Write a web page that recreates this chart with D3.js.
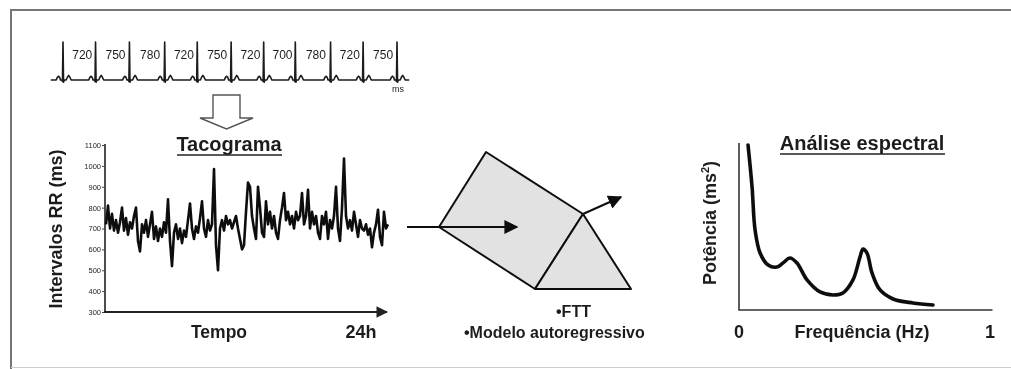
<!DOCTYPE html>
<html>
<head>
<meta charset="utf-8">
<script src="https://cdn.jsdelivr.net/npm/d3@7"></script>
<style>
  html, body { margin: 0; padding: 0; background: #fff; }
  svg { display: block; }
  text { font-family: "Liberation Sans", Arial, sans-serif; fill: #1e1e1e; }
</style>
</head>
<body>
<svg id="fig" width="1011" height="369"></svg>
<script>
// ---- ECG strip: RR intervals between successive R peaks (ms)
const ecgIntervals = [720, 750, 780, 720, 750, 720, 700, 780, 720, 750];
// one beat, as (ms offset from the R peak, relative amplitude)
const beatTemplate = [
  [-150, 0], [-125, 0.07], [-100, 0.1], [-75, 0.07], [-55, 0], [-25, 0],
  [-12, -0.04], [0, 1], [12, -0.06], [28, 0], [70, 0], [100, 0.08],
  [125, 0.12], [150, 0.08], [180, 0]
];

// ---- Tachogram: RR interval series over 24 h (ms)
const rrValues = [
  720, 810, 700, 770, 690, 740, 680, 730, 800, 690, 750, 670, 730, 700, 760, 800,
  640, 590, 720, 680, 740, 660, 720, 780, 650, 710, 640, 700, 660, 730, 680, 840,
  640, 520, 680, 720, 650, 700, 630, 690, 660, 740, 820, 700, 650, 710, 680, 750,
  830, 700, 660, 740, 690, 720, 985, 620, 500, 700, 740, 690, 760, 720, 740, 700,
  730, 760, 700, 650, 600, 620, 780, 920, 900, 760, 700, 650, 900, 800, 680, 660,
  830, 720, 780, 700, 760, 680, 650, 740, 800, 870, 740, 780, 720, 760, 700, 780,
  740, 760, 870, 720, 760, 885, 700, 780, 720, 760, 680, 650, 760, 720, 780, 650,
  740, 700, 760, 900, 700, 640, 800, 1035, 760, 700, 740, 690, 780, 720, 660, 740,
  700, 690, 720, 670, 700, 610, 680, 720, 790, 660, 620, 780, 700, 720
];
const rrTicks = [300, 400, 500, 600, 700, 800, 900, 1000, 1100];

// ---- Power spectrum: frequency (Hz) and power (arbitrary units)
const specFreq  = [0.036, 0.052, 0.064, 0.084, 0.116, 0.151, 0.175, 0.203, 0.231, 0.271, 0.323,
                   0.375, 0.414, 0.454, 0.482, 0.494, 0.510, 0.530, 0.562, 0.614, 0.693, 0.773];
const specPower = [98.8, 73.7, 47.9, 34.1, 26.9, 25.7, 28.1, 31.1, 28.1, 18.0, 10.8,
                   9.0, 10.2, 18.0, 31.7, 36.5, 34.1, 22.2, 12.0, 6.6, 4.2, 3.0];
const specTicks = [0, 1];

const svg = d3.select("#fig");

// light softening of all strokes and type
const defs = svg.append("defs");
defs.append("filter").attr("id", "soft")
  .append("feGaussianBlur").attr("stdDeviation", 0.4);

// arrowhead markers
function addHead(id, size, color) {
  defs.append("marker")
    .attr("id", id)
    .attr("viewBox", "0 0 10 10")
    .attr("refX", 9).attr("refY", 5)
    .attr("markerWidth", size).attr("markerHeight", size)
    .attr("markerUnits", "strokeWidth")
    .attr("orient", "auto")
    .append("path").attr("d", "M0,0 L10,5 L0,10 Z").attr("fill", color);
}
addHead("head", 7, "#111");
addHead("headAxis", 6.5, "#222");

const g = svg.append("g").attr("filter", "url(#soft)");

// ---- frame
g.append("path")
  .attr("d", "M1011,10 L11,10 L11,369")
  .attr("fill", "none").attr("stroke", "#777").attr("stroke-width", 2);
g.append("line")
  .attr("x1", 11).attr("x2", 1011).attr("y1", 367.5).attr("y2", 367.5)
  .attr("stroke", "#ccc").attr("stroke-width", 1);

// ---- ECG strip
const beatTimes = [0];
ecgIntervals.forEach(v => beatTimes.push(beatTimes[beatTimes.length - 1] + v));
const ecgX = d3.scaleLinear().domain([0, d3.sum(ecgIntervals)]).range([63, 397]);
const ecgY = d3.scaleLinear().domain([0, 1]).range([80, 42]);
const ecgPts = [];
beatTimes.forEach(t => beatTemplate.forEach(([dt, a]) => ecgPts.push([t + dt, a])));
ecgPts.unshift([-270, 0]);
ecgPts.push([beatTimes[beatTimes.length - 1] + 270, 0]);
g.append("path")
  .datum(ecgPts)
  .attr("d", d3.line().x(d => ecgX(d[0])).y(d => ecgY(d[1])))
  .attr("fill", "none").attr("stroke", "#1a1a1a").attr("stroke-width", 1.6)
  .attr("stroke-linejoin", "round");
g.selectAll("text.rr")
  .data(ecgIntervals)
  .join("text")
  .attr("class", "rr")
  .attr("x", (d, i) => (ecgX(beatTimes[i]) + ecgX(beatTimes[i + 1])) / 2 + 3)
  .attr("y", 59)
  .attr("text-anchor", "middle")
  .attr("font-size", 12)
  .attr("fill", "#222")
  .text(d => d);
g.append("text").attr("x", 398).attr("y", 92).attr("text-anchor", "middle")
  .attr("font-size", 9).attr("fill", "#444").text("ms");

// ---- hollow down arrow
g.append("path")
  .attr("d", "M213,95 L240,95 L240,118 L253,118 L226.5,129 L200,118 L213,118 Z")
  .attr("fill", "#fff").attr("stroke", "#555").attr("stroke-width", 1.4);

// ---- Tachogram
const tx = d3.scaleLinear().domain([0, rrValues.length - 1]).range([106, 388]);
const ty = d3.scaleLinear().domain([300, 1100]).range([312, 145]);

g.append("text").attr("x", 229).attr("y", 151).attr("text-anchor", "middle")
  .attr("font-size", 20).attr("font-weight", "bold").text("Tacograma");
g.append("line").attr("x1", 177).attr("x2", 282).attr("y1", 155).attr("y2", 155)
  .attr("stroke", "#222").attr("stroke-width", 1.5);

const yAxis = g.append("g").attr("transform", "translate(105,0)")
  .call(d3.axisLeft(ty).tickValues(rrTicks).tickFormat(d3.format("d")).tickSize(3).tickPadding(1));
yAxis.select(".domain").attr("stroke", "#222").attr("stroke-width", 1.6)
  .attr("d", `M0,${ty(300)}V${ty(1100) - 1}`);
yAxis.selectAll(".tick line").attr("stroke", "#444");
yAxis.selectAll(".tick text").attr("font-size", 7.5).attr("fill", "#444")
  .attr("font-family", "Liberation Sans, Arial, sans-serif");

g.append("line")
  .attr("x1", 104).attr("x2", 387).attr("y1", ty(300)).attr("y2", ty(300))
  .attr("stroke", "#222").attr("stroke-width", 1.8).attr("marker-end", "url(#headAxis)");

g.append("path")
  .datum(rrValues)
  .attr("d", d3.line().x((d, i) => tx(i)).y(d => ty(d)))
  .attr("fill", "none").attr("stroke", "#111").attr("stroke-width", 2.6)
  .attr("stroke-linejoin", "round");

g.append("text").attr("transform", "translate(62,229) rotate(-90)")
  .attr("text-anchor", "middle").attr("font-size", 18).attr("font-weight", "bold")
  .text("Intervalos RR (ms)");
g.append("text").attr("x", 219).attr("y", 338).attr("text-anchor", "middle")
  .attr("font-size", 17.5).attr("font-weight", "bold").text("Tempo");
g.append("text").attr("x", 361).attr("y", 338).attr("text-anchor", "middle")
  .attr("font-size", 18).attr("font-weight", "bold").text("24h");

// ---- Prism (spectral decomposition)
const prismBody = [[439, 227], [486, 152], [583, 214], [535, 289]];
const prismTip = [[535, 289], [583, 214], [631, 289]];
[prismBody, prismTip].forEach(p => {
  g.append("path")
    .attr("d", d3.line()(p) + "Z")
    .attr("fill", "#e2e2e2").attr("stroke", "#111").attr("stroke-width", 2)
    .attr("stroke-linejoin", "round");
});
g.append("line").attr("x1", 407).attr("y1", 227).attr("x2", 517).attr("y2", 227)
  .attr("stroke", "#111").attr("stroke-width", 2).attr("marker-end", "url(#head)");
g.append("line").attr("x1", 583).attr("y1", 214).attr("x2", 621).attr("y2", 197)
  .attr("stroke", "#111").attr("stroke-width", 2).attr("marker-end", "url(#head)");
g.append("text").attr("x", 556).attr("y", 317).attr("font-size", 16)
  .attr("font-weight", "bold").text("•FTT");
g.append("text").attr("x", 464).attr("y", 338).attr("font-size", 16)
  .attr("font-weight", "bold").text("•Modelo autoregressivo");

// ---- Power spectrum
const sx = d3.scaleLinear().domain([0, 1]).range([739, 990]);
const sy = d3.scaleLinear().domain([0, 100]).range([310, 143]);

g.append("text").attr("x", 862).attr("y", 150).attr("text-anchor", "middle")
  .attr("font-size", 20).attr("font-weight", "bold").text("Análise espectral");
g.append("line").attr("x1", 780).attr("x2", 945).attr("y1", 154).attr("y2", 154)
  .attr("stroke", "#222").attr("stroke-width", 1.5);

g.append("path")
  .attr("d", `M${sx(0)},${sy(100)}V${sy(0)}H${sx(1.01)}`)
  .attr("fill", "none").attr("stroke", "#333").attr("stroke-width", 1.6);

g.append("path")
  .datum(specFreq.map((f, i) => [f, specPower[i]]))
  .attr("d", d3.line().x(d => sx(d[0])).y(d => sy(d[1])).curve(d3.curveCatmullRom.alpha(0.5)))
  .attr("fill", "none").attr("stroke", "#111").attr("stroke-width", 3.6)
  .attr("stroke-linecap", "round");

g.selectAll("text.ftick")
  .data(specTicks)
  .join("text")
  .attr("class", "ftick")
  .attr("x", d => sx(d))
  .attr("y", 338)
  .attr("text-anchor", "middle")
  .attr("font-size", 18).attr("font-weight", "bold")
  .text(d => d);
g.append("text").attr("x", 862).attr("y", 338).attr("text-anchor", "middle")
  .attr("font-size", 18).attr("font-weight", "bold").text("Frequência (Hz)");

const ylab = g.append("text").attr("transform", "translate(716,223) rotate(-90)")
  .attr("text-anchor", "middle").attr("font-size", 18).attr("font-weight", "bold");
ylab.append("tspan").text("Potência (ms");
ylab.append("tspan").attr("font-size", 11).attr("dy", -7).text("2");
ylab.append("tspan").attr("dy", 7).text(")");
</script>
</body>
</html>
